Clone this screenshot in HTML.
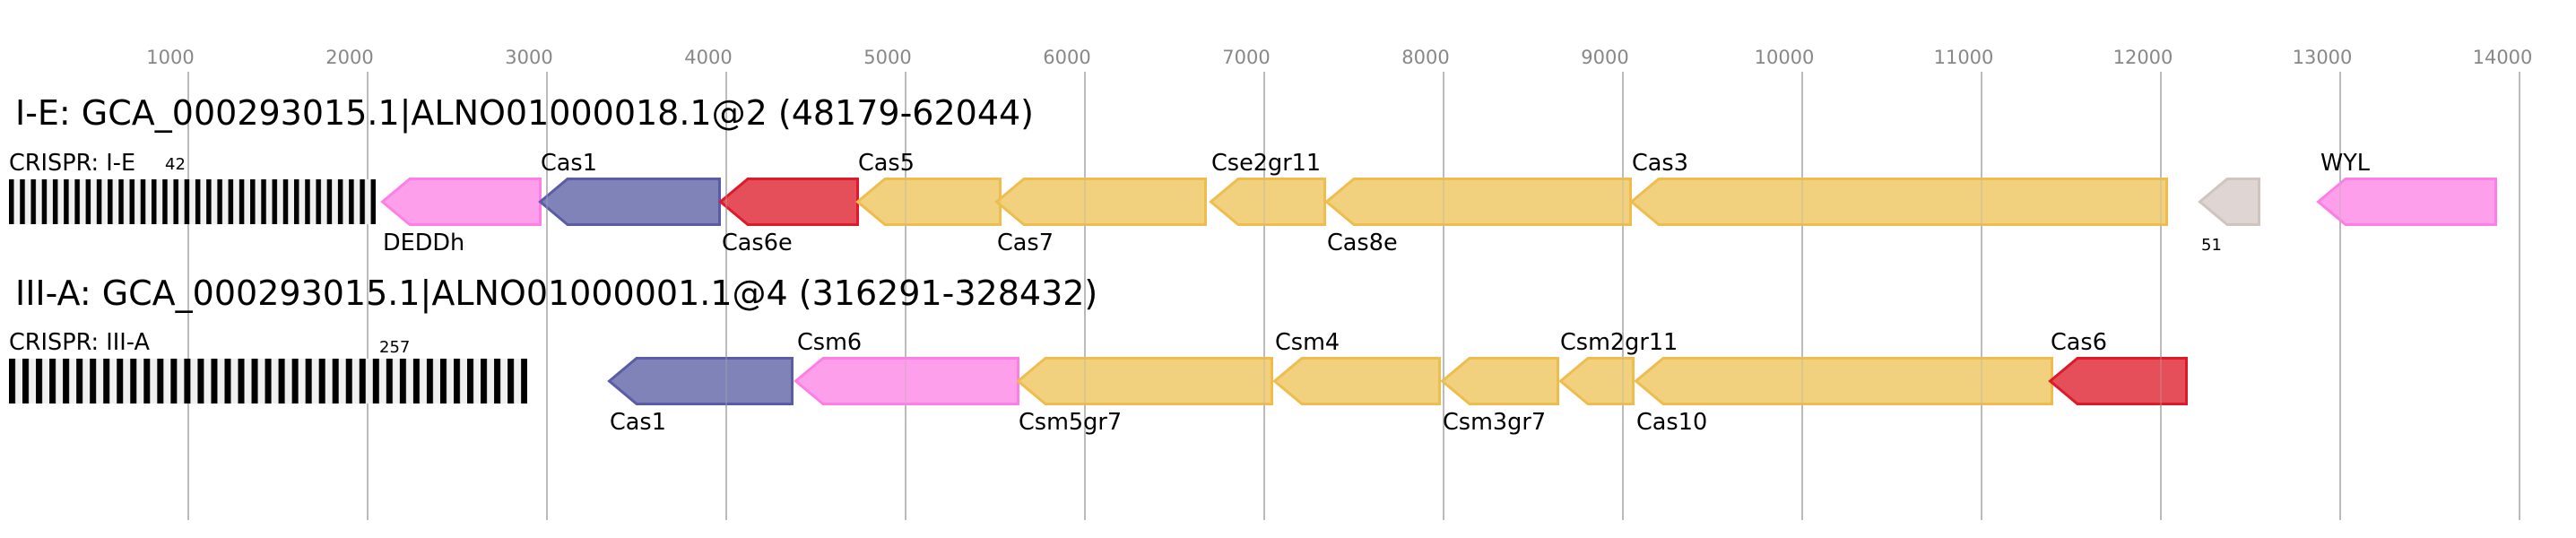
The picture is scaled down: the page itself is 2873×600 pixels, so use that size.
<!DOCTYPE html>
<html><head><meta charset="utf-8"><style>html,body{margin:0;padding:0;background:#fff}svg{display:block}</style></head>
<body>
<svg width="2873" height="600" viewBox="0 0 2873 600" xmlns="http://www.w3.org/2000/svg" font-family="'DejaVu Sans','Liberation Sans',sans-serif">
<defs>
<pattern id="p1" x="10" y="0" width="12.23" height="600" patternUnits="userSpaceOnUse"><rect x="0" y="0" width="12.23" height="600" fill="#f0f0f0"/><rect x="0" y="0" width="5.5" height="600" fill="#000"/></pattern>
<pattern id="p2" x="10" y="0" width="15.03" height="600" patternUnits="userSpaceOnUse"><rect x="0" y="0" width="15.03" height="600" fill="#f0f0f0"/><rect x="0" y="0" width="7" height="600" fill="#000"/></pattern>
</defs>
<g fill="#888" font-size="21" text-anchor="middle">
<text x="190" y="71">1000</text><text x="390" y="71">2000</text><text x="590" y="71">3000</text><text x="790" y="71">4000</text><text x="990" y="71">5000</text><text x="1190" y="71">6000</text><text x="1390" y="71">7000</text><text x="1590" y="71">8000</text><text x="1790" y="71">9000</text><text x="1990" y="71">10000</text><text x="2190" y="71">11000</text><text x="2390" y="71">12000</text><text x="2590" y="71">13000</text><text x="2791" y="71">14000</text>
</g>
<g stroke="#bbb" stroke-width="2">
<line x1="210" y1="80" x2="210" y2="580"/><line x1="410" y1="80" x2="410" y2="580"/><line x1="610" y1="80" x2="610" y2="580"/><line x1="810" y1="80" x2="810" y2="580"/><line x1="1010" y1="80" x2="1010" y2="580"/><line x1="1210" y1="80" x2="1210" y2="580"/><line x1="1410" y1="80" x2="1410" y2="580"/><line x1="1610" y1="80" x2="1610" y2="580"/><line x1="1810" y1="80" x2="1810" y2="580"/><line x1="2010" y1="80" x2="2010" y2="580"/><line x1="2210" y1="80" x2="2210" y2="580"/><line x1="2410" y1="80" x2="2410" y2="580"/><line x1="2610" y1="80" x2="2610" y2="580"/><line x1="2810" y1="80" x2="2810" y2="580"/>
</g>
<text x="17" y="139" font-size="38" fill="#000">I-E: GCA_000293015.1|ALNO01000018.1@2 (48179-62044)</text>
<text x="17" y="340" font-size="38" fill="#000">III-A: GCA_000293015.1|ALNO01000001.1@4 (316291-328432)</text>

<rect x="10" y="200" width="409" height="50" fill="url(#p1)"/>
<rect x="10" y="400" width="578" height="50" fill="url(#p2)"/>

<g stroke-width="3" stroke-linejoin="miter" fill-opacity="0.92">
<polygon points="426.5,225 457,199.5 602.5,199.5 602.5,250.5 457,250.5" fill="#fd97e9" stroke="#fd7fe5"/>
<polygon points="602.5,225 633,199.5 802.5,199.5 802.5,250.5 633,250.5" fill="#7478b2" stroke="#5a5ca6"/>
<polygon points="803.5,225 834,199.5 956.5,199.5 956.5,250.5 834,250.5" fill="#e3404c" stroke="#dc1a2a"/>
<polygon points="956.5,225 987,199.5 1115.5,199.5 1115.5,250.5 987,250.5" fill="#f0cc73" stroke="#eebd4e"/>
<polygon points="1111.5,225 1142,199.5 1344.5,199.5 1344.5,250.5 1142,250.5" fill="#f0cc73" stroke="#eebd4e"/>
<polygon points="1350.5,225 1381,199.5 1477.5,199.5 1477.5,250.5 1381,250.5" fill="#f0cc73" stroke="#eebd4e"/>
<polygon points="1479.5,225 1510,199.5 1818.5,199.5 1818.5,250.5 1510,250.5" fill="#f0cc73" stroke="#eebd4e"/>
<polygon points="1819.5,225 1850,199.5 2416.5,199.5 2416.5,250.5 1850,250.5" fill="#f0cc73" stroke="#eebd4e"/>
<polygon points="2453.5,225 2484,199.5 2519.5,199.5 2519.5,250.5 2484,250.5" fill="#dcd3cf" stroke="#d0c5be"/>
<polygon points="2585.5,225 2616,199.5 2783.5,199.5 2783.5,250.5 2616,250.5" fill="#fd97e9" stroke="#fd7fe5"/>
<polygon points="679.5,425 710,399.5 883.5,399.5 883.5,450.5 710,450.5" fill="#7478b2" stroke="#5a5ca6"/>
<polygon points="887.5,425 918,399.5 1135.5,399.5 1135.5,450.5 918,450.5" fill="#fd97e9" stroke="#fd7fe5"/>
<polygon points="1135.5,425 1166,399.5 1418.5,399.5 1418.5,450.5 1166,450.5" fill="#f0cc73" stroke="#eebd4e"/>
<polygon points="1421.5,425 1452,399.5 1605.5,399.5 1605.5,450.5 1452,450.5" fill="#f0cc73" stroke="#eebd4e"/>
<polygon points="1608.5,425 1639,399.5 1737.5,399.5 1737.5,450.5 1639,450.5" fill="#f0cc73" stroke="#eebd4e"/>
<polygon points="1740.5,425 1771,399.5 1821.5,399.5 1821.5,450.5 1771,450.5" fill="#f0cc73" stroke="#eebd4e"/>
<polygon points="1824.5,425 1855,399.5 2288.5,399.5 2288.5,450.5 1855,450.5" fill="#f0cc73" stroke="#eebd4e"/>
<polygon points="2286.5,425 2317,399.5 2438.5,399.5 2438.5,450.5 2317,450.5" fill="#e3404c" stroke="#dc1a2a"/>
</g>
<g stroke="#bbb" stroke-width="2" opacity="0.3">
<line x1="610" y1="198" x2="610" y2="252"/><line x1="810" y1="198" x2="810" y2="252"/><line x1="1010" y1="198" x2="1010" y2="252"/><line x1="1210" y1="198" x2="1210" y2="252"/><line x1="1410" y1="198" x2="1410" y2="252"/><line x1="1610" y1="198" x2="1610" y2="252"/><line x1="1810" y1="198" x2="1810" y2="252"/><line x1="2010" y1="198" x2="2010" y2="252"/><line x1="2210" y1="198" x2="2210" y2="252"/><line x1="2410" y1="198" x2="2410" y2="252"/><line x1="2610" y1="198" x2="2610" y2="252"/>
<line x1="810" y1="398" x2="810" y2="452"/><line x1="1010" y1="398" x2="1010" y2="452"/><line x1="1210" y1="398" x2="1210" y2="452"/><line x1="1410" y1="398" x2="1410" y2="452"/><line x1="1610" y1="398" x2="1610" y2="452"/><line x1="1810" y1="398" x2="1810" y2="452"/><line x1="2010" y1="398" x2="2010" y2="452"/><line x1="2210" y1="398" x2="2210" y2="452"/><line x1="2410" y1="398" x2="2410" y2="452"/>
</g>
<g font-size="25.5" fill="#000">
<text x="10" y="190">CRISPR: I-E</text>
<text x="184" y="189" font-size="18">42</text>
<text x="603" y="190">Cas1</text>
<text x="957" y="190">Cas5</text>
<text x="1351" y="190">Cse2gr11</text>
<text x="1820" y="190">Cas3</text>
<text x="2588" y="190">WYL</text>
<text x="427" y="279">DEDDh</text>
<text x="805" y="279">Cas6e</text>
<text x="1112" y="279">Cas7</text>
<text x="1480" y="279">Cas8e</text>
<text x="2455" y="279" font-size="18">51</text>
<text x="10" y="390">CRISPR: III-A</text>
<text x="423" y="393" font-size="18">257</text>
<text x="889" y="390">Csm6</text>
<text x="1422" y="390">Csm4</text>
<text x="1740" y="390">Csm2gr11</text>
<text x="2287" y="390">Cas6</text>
<text x="680" y="479">Cas1</text>
<text x="1136" y="479">Csm5gr7</text>
<text x="1609" y="479">Csm3gr7</text>
<text x="1825" y="479">Cas10</text>
</g>
</svg>
</body></html>
